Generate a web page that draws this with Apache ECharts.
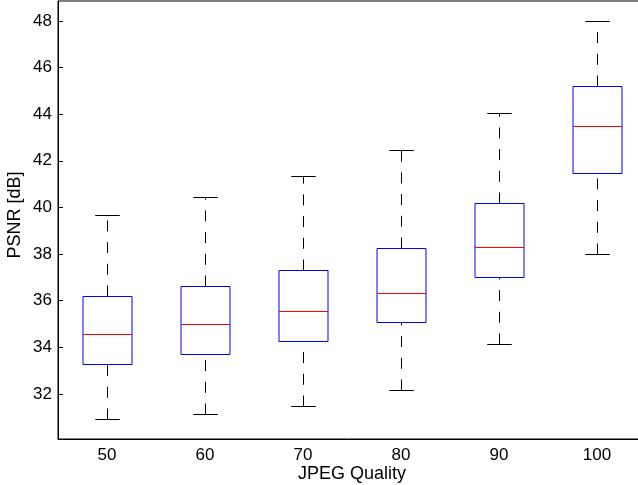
<!DOCTYPE html>
<html>
<head>
<meta charset="utf-8">
<script src="https://cdn.jsdelivr.net/npm/echarts@6/dist/echarts.min.js"></script>
<style>
  html, body { margin: 0; padding: 0; background: #fff; }
  #chart { width: 638px; height: 485px; }
</style>
</head>
<body>
<div id="chart"></div>
<script>
// JPEG quality levels and PSNR box statistics per level
const categories = ['50', '60', '70', '80', '90', '100'];
const whiskerLow  = [30.91, 31.13, 31.48, 32.17, 34.14, 37.99];
const quartile1   = [33.30, 33.72, 34.26, 35.07, 37.02, 41.47];
const median      = [34.56, 34.99, 35.56, 36.35, 38.32, 43.51];
const quartile3   = [36.19, 36.65, 37.31, 38.28, 40.18, 45.21];
const whiskerHigh = [39.68, 40.44, 41.36, 42.44, 44.04, 48.00];
const yTicks = [32, 34, 36, 38, 40, 42, 44, 46, 48];

const FONT = '"Liberation Sans", Arial, Helvetica, sans-serif';

const boxData = categories.map((c, i) => [
  i, whiskerLow[i], quartile1[i], median[i], quartile3[i], whiskerHigh[i]
]);

function renderBox(params, api) {
  const i = api.value(0);
  const lo = api.value(1), q1 = api.value(2), med = api.value(3),
        q3 = api.value(4), hi = api.value(5);
  const band = api.size([1, 0])[0];
  const cx = Math.round(api.coord([i, med])[0]) + 0.5;
  const y = v => Math.round(api.coord([i, v])[1]) + 0.5;
  const bw = band * 0.25, cw = band * 0.125;
  const yLo = y(lo), yQ1 = y(q1), yMed = y(med), yQ3 = y(q3), yHi = y(hi);
  const dash = { stroke: '#000', lineWidth: 1, lineDash: [11, 10.7] };
  const solid = c => ({ stroke: c, lineWidth: 1, fill: null });
  return {
    type: 'group',
    children: [
      // upper whisker, drawn from box toward the cap
      { type: 'line', shape: { x1: cx, y1: yQ3, x2: cx, y2: yHi }, style: dash },
      // lower whisker, drawn from the cap toward the box
      { type: 'line', shape: { x1: cx, y1: yLo, x2: cx, y2: yQ1 }, style: dash },
      { type: 'line', shape: { x1: cx - cw, y1: yHi, x2: cx + cw, y2: yHi }, style: solid('#000') },
      { type: 'line', shape: { x1: cx - cw, y1: yLo, x2: cx + cw, y2: yLo }, style: solid('#000') },
      { type: 'rect', shape: { x: cx - bw, y: yQ3, width: 2 * bw, height: yQ1 - yQ3 }, style: solid('#0000ff') },
      { type: 'line', shape: { x1: cx - bw, y1: yMed, x2: cx + bw, y2: yMed }, style: solid('#ff0000') }
    ]
  };
}

const chart = echarts.init(document.getElementById('chart'), null, { renderer: 'canvas' });
chart.setOption({
  animation: false,
  backgroundColor: '#fff',
  grid: {
    left: 58, top: 1, width: 588, height: 438,
    containLabel: false,
    outerBoundsMode: 'none',
    show: true, borderColor: '#000', borderWidth: 1, backgroundColor: 'transparent'
  },
  xAxis: {
    type: 'category',
    data: categories,
    boundaryGap: true,
    name: 'JPEG Quality',
    nameLocation: 'middle',
    nameGap: 26,
    nameMoveOverlap: false,
    nameTextStyle: { color: '#000', fontSize: 18, fontFamily: FONT },
    axisLine: { show: true, lineStyle: { color: '#000', width: 1 } },
    axisTick: { show: false },
    axisLabel: { color: '#000', fontSize: 17, fontFamily: FONT, margin: 8 },
    splitLine: { show: false }
  },
  yAxis: {
    type: 'value',
    min: 30.07,
    max: 48.85,
    name: 'PSNR [dB]',
    nameLocation: 'middle',
    nameGap: 34,
    nameMoveOverlap: false,
    nameTextStyle: { color: '#000', fontSize: 18, fontFamily: FONT, padding: [0, 0, 0, 10] },
    axisLine: { show: true, lineStyle: { color: '#000', width: 1 } },
    axisTick: { show: true, inside: true, length: 5, customValues: yTicks, lineStyle: { color: '#000' } },
    axisLabel: { color: '#000', fontSize: 17, fontFamily: FONT, margin: 6, customValues: yTicks },
    splitLine: { show: false }
  },
  series: [{
    type: 'custom',
    renderItem: renderBox,
    data: boxData,
    encode: { x: 0, y: [1, 2, 3, 4, 5] },
    silent: true
  }]
});
</script>
</body>
</html>
